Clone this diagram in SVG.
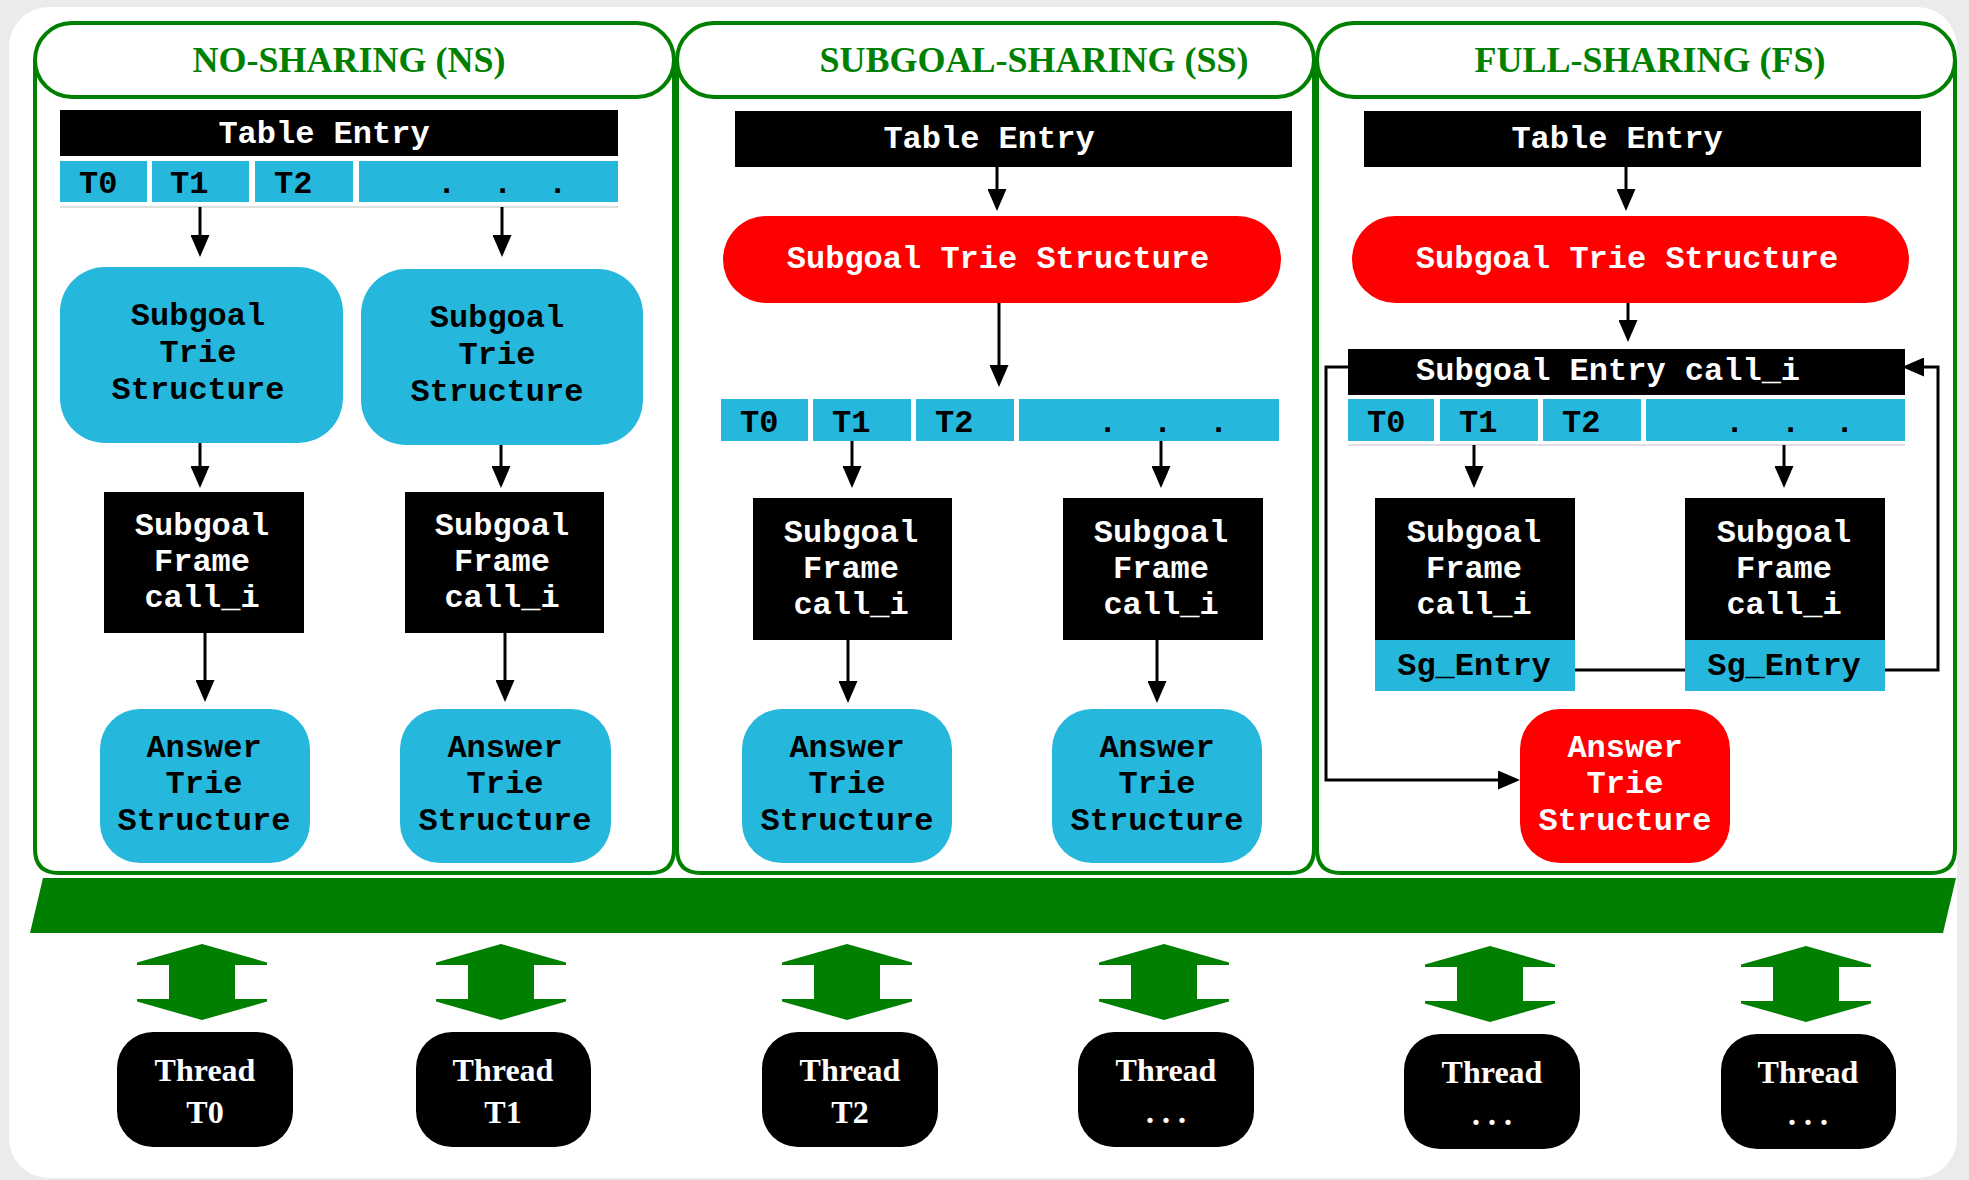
<svg xmlns="http://www.w3.org/2000/svg" width="1969" height="1180" viewBox="0 0 1969 1180">
  <style>
    .panel { fill: none; stroke: #008000; stroke-width: 4; }
    .cap { fill: #ffffff; stroke: #008000; stroke-width: 4; }
    .title { font-family: "Liberation Serif", "Times New Roman", serif; font-weight: bold; font-size: 36px; fill: #008000; text-anchor: middle; }
    .mono { font-family: "Liberation Mono", "Courier New", monospace; font-weight: bold; font-size: 32px; }
    .mid { text-anchor: middle; }
    .wt { fill: #ffffff; }
    .bk { fill: #000000; }
    .cyan { fill: #26b7dc; }
    .red { fill: #ff0000; }
    .blk { fill: #000000; }
    .edge { fill: none; stroke: #000000; stroke-width: 3; }
    .rule { stroke: #d4d4d4; stroke-width: 1.5; }
    .thr { font-family: "Liberation Serif", "Times New Roman", serif; font-weight: bold; font-size: 32px; fill: #ffffff; text-anchor: middle; }
    .bus { fill: #007f00; }
  </style>
  <defs>
    <marker id="ah" markerUnits="userSpaceOnUse" viewBox="0 0 22 19" refX="12" refY="9.5" markerWidth="22" markerHeight="19" orient="auto">
      <path d="M0,0 L22,9.5 L0,19 z" fill="#000000"/>
    </marker>
    <path id="dbl" d="M0,-38 L65,-19.5 L65,-17 L33,-17 L33,17 L65,17 L65,19.5 L0,38 L-65,19.5 L-65,17 L-33,17 L-33,-17 L-65,-17 L-65,-19.5 z"/>
  </defs>

  <!-- page -->
  <rect x="0" y="0" width="1969" height="1180" fill="#ebebeb"/>
  <rect x="9" y="7" width="1948" height="1171" rx="40" fill="#ffffff"/>

  <!-- panel frames -->
  <g id="panel-ns">
    <path class="panel" d="M35,60 V849 Q35,873 59,873 H650 Q674,873 674,849 V60"/>
    <rect class="cap" x="35" y="23" width="639" height="74" rx="37"/>
    <text class="title" x="349" y="72">NO-SHARING (NS)</text>
  </g>
  <g id="panel-ss">
    <path class="panel" d="M677,60 V849 Q677,873 701,873 H1290 Q1314,873 1314,849 V60"/>
    <rect class="cap" x="677" y="23" width="637" height="74" rx="37"/>
    <text class="title" x="1034" y="72">SUBGOAL-SHARING (SS)</text>
  </g>
  <g id="panel-fs">
    <path class="panel" d="M1317,60 V849 Q1317,873 1341,873 H1931 Q1955,873 1955,849 V60"/>
    <rect class="cap" x="1317" y="23" width="638" height="74" rx="37"/>
    <text class="title" x="1650" y="72">FULL-SHARING (FS)</text>
  </g>

  <!-- NO-SHARING nodes -->
  <g id="ns-table-entry">
    <rect class="blk" x="60" y="110" width="558" height="46"/>
    <text class="mono wt mid" x="324" y="143">Table Entry</text>
  </g>
  <g id="ns-threads">
    <rect class="cyan" x="60" y="161" width="87" height="41"/>
    <rect class="cyan" x="152" y="161" width="97" height="41"/>
    <rect class="cyan" x="255" y="161" width="98" height="41"/>
    <rect class="cyan" x="359" y="161" width="259" height="41"/>
    <line class="rule" x1="60" y1="207" x2="618" y2="207"/>
    <text class="mono bk" x="79" y="193">T0</text>
    <text class="mono bk" x="170" y="193">T1</text>
    <text class="mono bk" x="274" y="193">T2</text>
    <text class="mono bk" x="437 493 548" y="193">...</text>
  </g>
  <g id="ns-subgoal-trie-0">
    <rect class="cyan" x="60" y="267" width="283" height="176" rx="45"/>
    <text class="mono bk mid" x="198" y="325">Subgoal</text>
    <text class="mono bk mid" x="198" y="362">Trie</text>
    <text class="mono bk mid" x="198" y="399">Structure</text>
  </g>
  <g id="ns-subgoal-trie-1">
    <rect class="cyan" x="361" y="269" width="282" height="176" rx="45"/>
    <text class="mono bk mid" x="497" y="327">Subgoal</text>
    <text class="mono bk mid" x="497" y="364">Trie</text>
    <text class="mono bk mid" x="497" y="401">Structure</text>
  </g>
  <g id="ns-frame-0">
    <rect class="blk" x="104" y="492" width="200" height="141"/>
    <text class="mono wt mid" x="202" y="535">Subgoal</text>
    <text class="mono wt mid" x="202" y="571">Frame</text>
    <text class="mono wt mid" x="202" y="607">call_i</text>
  </g>
  <g id="ns-frame-1">
    <rect class="blk" x="405" y="492" width="199" height="141"/>
    <text class="mono wt mid" x="502" y="535">Subgoal</text>
    <text class="mono wt mid" x="502" y="571">Frame</text>
    <text class="mono wt mid" x="502" y="607">call_i</text>
  </g>
  <g id="ns-answer-0">
    <rect class="cyan" x="100" y="709" width="210" height="154" rx="40"/>
    <text class="mono bk mid" x="204" y="757">Answer</text>
    <text class="mono bk mid" x="204" y="793">Trie</text>
    <text class="mono bk mid" x="204" y="830">Structure</text>
  </g>
  <g id="ns-answer-1">
    <rect class="cyan" x="400" y="709" width="211" height="154" rx="40"/>
    <text class="mono bk mid" x="505" y="757">Answer</text>
    <text class="mono bk mid" x="505" y="793">Trie</text>
    <text class="mono bk mid" x="505" y="830">Structure</text>
  </g>

  <!-- SUBGOAL-SHARING nodes -->
  <g id="ss-table-entry">
    <rect class="blk" x="735" y="111" width="557" height="56"/>
    <text class="mono wt mid" x="989" y="148">Table Entry</text>
  </g>
  <g id="ss-subgoal-trie">
    <rect class="red" x="723" y="216" width="558" height="87" rx="43.5"/>
    <text class="mono wt mid" x="998" y="268">Subgoal Trie Structure</text>
  </g>
  <g id="ss-threads">
    <rect class="cyan" x="721" y="399" width="87" height="42"/>
    <rect class="cyan" x="813" y="399" width="98" height="42"/>
    <rect class="cyan" x="916" y="399" width="98" height="42"/>
    <rect class="cyan" x="1019" y="399" width="260" height="42"/>
    <text class="mono bk" x="740" y="432">T0</text>
    <text class="mono bk" x="832" y="432">T1</text>
    <text class="mono bk" x="935" y="432">T2</text>
    <text class="mono bk" x="1098 1153 1209" y="432">...</text>
  </g>
  <g id="ss-frame-0">
    <rect class="blk" x="753" y="498" width="199" height="142"/>
    <text class="mono wt mid" x="851" y="542">Subgoal</text>
    <text class="mono wt mid" x="851" y="578">Frame</text>
    <text class="mono wt mid" x="851" y="614">call_i</text>
  </g>
  <g id="ss-frame-1">
    <rect class="blk" x="1063" y="498" width="200" height="142"/>
    <text class="mono wt mid" x="1161" y="542">Subgoal</text>
    <text class="mono wt mid" x="1161" y="578">Frame</text>
    <text class="mono wt mid" x="1161" y="614">call_i</text>
  </g>
  <g id="ss-answer-0">
    <rect class="cyan" x="742" y="709" width="210" height="154" rx="40"/>
    <text class="mono bk mid" x="847" y="757">Answer</text>
    <text class="mono bk mid" x="847" y="793">Trie</text>
    <text class="mono bk mid" x="847" y="830">Structure</text>
  </g>
  <g id="ss-answer-1">
    <rect class="cyan" x="1052" y="709" width="210" height="154" rx="40"/>
    <text class="mono bk mid" x="1157" y="757">Answer</text>
    <text class="mono bk mid" x="1157" y="793">Trie</text>
    <text class="mono bk mid" x="1157" y="830">Structure</text>
  </g>

  <!-- FULL-SHARING nodes -->
  <g id="fs-table-entry">
    <rect class="blk" x="1364" y="111" width="557" height="56"/>
    <text class="mono wt mid" x="1617" y="148">Table Entry</text>
  </g>
  <g id="fs-subgoal-trie">
    <rect class="red" x="1352" y="216" width="557" height="87" rx="43.5"/>
    <text class="mono wt mid" x="1627" y="268">Subgoal Trie Structure</text>
  </g>
  <g id="fs-subgoal-entry">
    <rect class="blk" x="1348" y="349" width="557" height="46"/>
    <text class="mono wt mid" x="1608" y="380">Subgoal Entry call_i</text>
  </g>
  <g id="fs-threads">
    <rect class="cyan" x="1348" y="399" width="86" height="42"/>
    <rect class="cyan" x="1440" y="399" width="98" height="42"/>
    <rect class="cyan" x="1543" y="399" width="98" height="42"/>
    <rect class="cyan" x="1646" y="399" width="259" height="42"/>
    <line class="rule" x1="1348" y1="445" x2="1905" y2="445"/>
    <text class="mono bk" x="1367" y="432">T0</text>
    <text class="mono bk" x="1459" y="432">T1</text>
    <text class="mono bk" x="1562" y="432">T2</text>
    <text class="mono bk" x="1725 1781 1835" y="432">...</text>
  </g>
  <g id="fs-frame-0">
    <rect class="blk" x="1375" y="498" width="200" height="142"/>
    <rect class="cyan" x="1375" y="640" width="200" height="51"/>
    <text class="mono wt mid" x="1474" y="542">Subgoal</text>
    <text class="mono wt mid" x="1474" y="578">Frame</text>
    <text class="mono wt mid" x="1474" y="614">call_i</text>
    <text class="mono bk mid" x="1474" y="675">Sg_Entry</text>
  </g>
  <g id="fs-frame-1">
    <rect class="blk" x="1685" y="498" width="200" height="142"/>
    <rect class="cyan" x="1685" y="640" width="200" height="51"/>
    <text class="mono wt mid" x="1784" y="542">Subgoal</text>
    <text class="mono wt mid" x="1784" y="578">Frame</text>
    <text class="mono wt mid" x="1784" y="614">call_i</text>
    <text class="mono bk mid" x="1784" y="675">Sg_Entry</text>
  </g>
  <g id="fs-answer">
    <rect class="red" x="1520" y="709" width="210" height="154" rx="40"/>
    <text class="mono wt mid" x="1625" y="757">Answer</text>
    <text class="mono wt mid" x="1625" y="793">Trie</text>
    <text class="mono wt mid" x="1625" y="830">Structure</text>
  </g>

  <!-- connectors -->
  <g id="connectors">
    <line class="edge" x1="200" y1="207" x2="200" y2="247" marker-end="url(#ah)"/>
    <line class="edge" x1="502" y1="207" x2="502" y2="247" marker-end="url(#ah)"/>
    <line class="edge" x1="200" y1="443" x2="200" y2="478" marker-end="url(#ah)"/>
    <line class="edge" x1="501" y1="445" x2="501" y2="478" marker-end="url(#ah)"/>
    <line class="edge" x1="205" y1="633" x2="205" y2="692" marker-end="url(#ah)"/>
    <line class="edge" x1="505" y1="633" x2="505" y2="692" marker-end="url(#ah)"/>

    <line class="edge" x1="997" y1="167" x2="997" y2="201" marker-end="url(#ah)"/>
    <line class="edge" x1="999" y1="303" x2="999" y2="377" marker-end="url(#ah)"/>
    <line class="edge" x1="852" y1="441" x2="852" y2="478" marker-end="url(#ah)"/>
    <line class="edge" x1="1161" y1="441" x2="1161" y2="478" marker-end="url(#ah)"/>
    <line class="edge" x1="848" y1="640" x2="848" y2="693" marker-end="url(#ah)"/>
    <line class="edge" x1="1157" y1="640" x2="1157" y2="693" marker-end="url(#ah)"/>

    <line class="edge" x1="1626" y1="167" x2="1626" y2="201" marker-end="url(#ah)"/>
    <line class="edge" x1="1628" y1="303" x2="1628" y2="332" marker-end="url(#ah)"/>
    <line class="edge" x1="1474" y1="445" x2="1474" y2="478" marker-end="url(#ah)"/>
    <line class="edge" x1="1784" y1="445" x2="1784" y2="478" marker-end="url(#ah)"/>
    <path class="edge" d="M1348,367 H1326 V780 H1510" marker-end="url(#ah)"/>
    <path class="edge" d="M1885,670 H1938 V367 H1912" marker-end="url(#ah)"/>
    <path class="edge" d="M1575,670 H1685"/>
  </g>

  <!-- shared bus -->
  <polygon class="bus" points="43,878 1956,878 1943,933 30,933"/>

  <!-- bus links -->
  <g id="bus-links" class="bus">
    <use href="#dbl" transform="translate(202,982)"/>
    <use href="#dbl" transform="translate(501,982)"/>
    <use href="#dbl" transform="translate(847,982)"/>
    <use href="#dbl" transform="translate(1164,982)"/>
    <use href="#dbl" transform="translate(1490,984)"/>
    <use href="#dbl" transform="translate(1806,984)"/>
  </g>

  <!-- worker threads -->
  <g id="thread-t0">
    <rect class="blk" x="117" y="1032" width="176" height="115" rx="36"/>
    <text class="thr" x="205" y="1081">Thread</text>
    <text class="thr" x="205" y="1123">T0</text>
  </g>
  <g id="thread-t1">
    <rect class="blk" x="416" y="1032" width="175" height="115" rx="36"/>
    <text class="thr" x="503" y="1081">Thread</text>
    <text class="thr" x="503" y="1123">T1</text>
  </g>
  <g id="thread-t2">
    <rect class="blk" x="762" y="1032" width="176" height="115" rx="36"/>
    <text class="thr" x="850" y="1081">Thread</text>
    <text class="thr" x="850" y="1123">T2</text>
  </g>
  <g id="thread-n0">
    <rect class="blk" x="1078" y="1032" width="176" height="115" rx="36"/>
    <text class="thr" x="1166" y="1081">Thread</text>
    <text class="thr" x="1166" y="1123">. . .</text>
  </g>
  <g id="thread-n1">
    <rect class="blk" x="1404" y="1034" width="176" height="115" rx="36"/>
    <text class="thr" x="1492" y="1083">Thread</text>
    <text class="thr" x="1492" y="1125">. . .</text>
  </g>
  <g id="thread-n2">
    <rect class="blk" x="1721" y="1034" width="175" height="115" rx="36"/>
    <text class="thr" x="1808" y="1083">Thread</text>
    <text class="thr" x="1808" y="1125">. . .</text>
  </g>
</svg>
